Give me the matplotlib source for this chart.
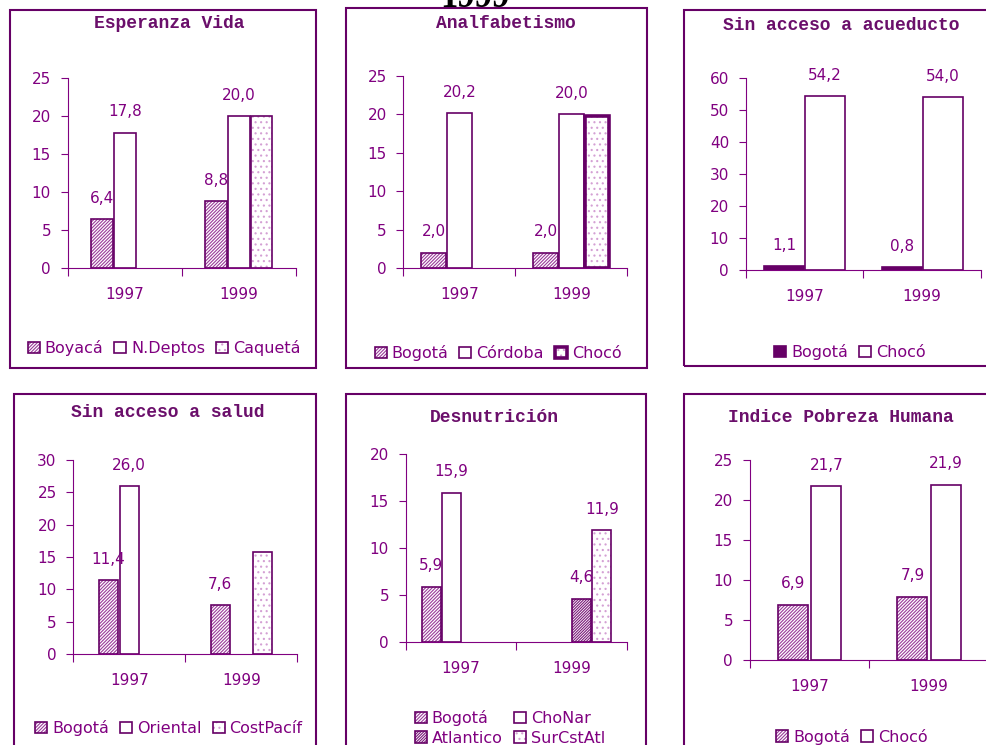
import numpy as np
import matplotlib
matplotlib.use('Agg')
import matplotlib.pyplot as plt
from matplotlib.patches import Rectangle, Patch

W, H = 986, 745
nan = np.nan

years = ['1997', '1999']

esp_names = ['Boyacá', 'N.Deptos', 'Caquetá']
esp_vals = [[6.4, 8.8], [17.8, 20.0], [nan, 20.0]]

anal_names = ['Bogotá', 'Córdoba', 'Chocó']
anal_vals = [[2.0, 2.0], [20.2, 20.0], [nan, 19.8]]

acu_names = ['Bogotá', 'Chocó']
acu_vals = [[1.1, 0.8], [54.2, 54.0]]

sal_names = ['Bogotá', 'Oriental', 'CostPacíf']
sal_vals = [[11.4, 7.6], [26.0, nan], [nan, 15.8]]

des_names = ['Bogotá', 'ChoNar', 'Atlantico', 'SurCstAtl']
des_vals = [[5.9, nan], [15.9, nan], [nan, 4.6], [nan, 11.9]]

iph_names = ['Bogotá', 'Chocó']
iph_vals = [[6.9, 7.9], [21.7, 21.9]]

purple = '#800080'
dark = '#660066'
title_col = '#6b0f6b'

plt.rcParams['hatch.linewidth'] = 0.8

styles = {
    'hatch': dict(face='white', hatch='//////////', hc='#9a3c9a', lw=1.2),
    'hatch2': dict(face='white', hatch='////////////', hc='#7a1a7a', lw=1.2),
    'white': dict(face='white', hatch=None, hc=dark, lw=1.2),
    'dots': dict(face='white', hatch='...', hc='#d4a0d4', lw=1.2),
    'dots_thick': dict(face='white', hatch='...', hc='#d4a0d4', lw=2.6),
    'solid': dict(face=dark, hatch=None, hc=dark, lw=1.2),
}


def fig_rect(x0, y0, x1, y1):
    return [x0 / W, 1 - y1 / H, (x1 - x0) / W, (y1 - y0) / H]


def draw_panel(fig, box, axbox, title, title_xy, names, vals, kinds, labeled,
               ymax, ystep, offsets, width, leg_xy, leg_ncol, leg_order=None):
    fig.add_artist(Rectangle((box[0] / W, 1 - box[3] / H), (box[2] - box[0]) / W,
                             (box[3] - box[1]) / H, transform=fig.transFigure,
                             fill=False, edgecolor=dark, lw=1.5))
    fig.text(title_xy[0] / W, 1 - title_xy[1] / H, title, ha='center', va='center',
             family='Liberation Mono', weight='bold', fontsize=13, color=title_col)
    ax = fig.add_axes(fig_rect(*axbox))
    ax.patch.set_alpha(0)
    x = np.arange(len(years)) + 0.5
    handles = []
    for name, v, k, off, lab in zip(names, vals, kinds, offsets, labeled):
        st = styles[k]
        v = np.array(v, dtype=float)
        ax.bar(x + off, v, width, color=st['face'], hatch=st['hatch'],
               edgecolor=st['hc'], linewidth=0)
        ax.bar(x + off, v, width, fill=False, edgecolor=dark, linewidth=st['lw'])
        handles.append((Patch(facecolor=st['face'], hatch=st['hatch'], edgecolor=st['hc'], lw=0),
                        Patch(fill=False, edgecolor=dark, lw=st['lw'])))
        if lab:
            for xi, vi in zip(x + off, v):
                if np.isnan(vi):
                    continue
                ax.annotate(f'{vi:.1f}'.replace('.', ','), (xi, vi), xytext=(0, 15),
                            textcoords='offset points', ha='center', va='center',
                            fontsize=11, color=purple)
    ax.set_xlim(0, len(years))
    ax.set_ylim(0, ymax)
    ax.set_yticks(np.arange(0, ymax + 1, ystep))
    ax.set_xticks(np.arange(len(years) + 1))
    ax.set_xticklabels([])
    ax.set_xticks(x, minor=True)
    ax.set_xticklabels(years, minor=True)
    ax.tick_params(axis='x', which='major', direction='out', length=6, color=purple)
    ax.tick_params(axis='x', which='minor', length=0, pad=14, labelsize=11, labelcolor=purple)
    ax.tick_params(axis='y', direction='out', length=5, pad=7, color=purple,
                   labelsize=11, labelcolor=purple)
    for s in ['top', 'right']:
        ax.spines[s].set_visible(False)
    for s in ['left', 'bottom']:
        ax.spines[s].set_color(purple)
    if leg_order is None:
        leg_order = range(len(names))
    fig.legend([handles[i] for i in leg_order], [names[i] for i in leg_order],
               loc='center', bbox_to_anchor=(leg_xy[0] / W, 1 - leg_xy[1] / H),
               ncol=leg_ncol, frameon=False, fontsize=11.5, handlelength=0.75,
               handleheight=0.75, handletextpad=0.3, columnspacing=0.7,
               labelcolor=purple, labelspacing=0.3)
    return ax


fig = plt.figure(figsize=(W / 100, H / 100), dpi=100)

# title of the page, cut by the top edge as in the source
fig.text(475 / W, 1 - 7 / H, '1999', ha='center', va='baseline', fontsize=25,
         family='Liberation Serif', weight='bold', color='black')

draw_panel(fig, (9.5, 10, 315.7, 367.7), (67.7, 78, 295.7, 268), 'Esperanza Vida', (169, 24),
           esp_names, esp_vals, ['hatch', 'white', 'dots'], [True, True, False],
           25, 5, [-0.2, 0, 0.2], 0.19, (164, 348), 3)

draw_panel(fig, (345.7, 8.3, 647, 367.7), (403.3, 76, 627.3, 268), 'Analfabetismo', (506, 23),
           anal_names, anal_vals, ['hatch', 'white', 'dots_thick'], [True, True, False],
           25, 5, [-0.23, 0, 0.23], 0.22, (498, 353), 3)

draw_panel(fig, (684, 10, 990, 366), (745.7, 77.7, 981, 269.7), 'Sin acceso a acueducto', (841, 26),
           acu_names, acu_vals, ['solid', 'white'], [True, True],
           60, 10, [-0.175, 0.175], 0.34, (850, 352), 2)

draw_panel(fig, (14.3, 394.3, 315.7, 750), (73.3, 460, 297.3, 654), 'Sin acceso a salud', (168, 412),
           sal_names, sal_vals, ['hatch', 'white', 'dots'], [True, True, False],
           30, 5, [-0.19, 0, 0.19], 0.17, (169, 728), 3)

draw_panel(fig, (345.7, 394, 646, 750), (405.7, 454, 627.3, 642), 'Desnutrición', (494, 417),
           des_names, des_vals, ['hatch', 'white', 'hatch2', 'dots'], [True, True, True, True],
           20, 5, [-0.27, -0.09, 0.09, 0.27], 0.17, (510, 728), 2, leg_order=[0, 2, 1, 3])

draw_panel(fig, (684, 394.3, 990, 750), (749.7, 460, 989, 659.7), 'Indice Pobreza Humana', (841, 417),
           iph_names, iph_vals, ['hatch', 'white'], [True, True],
           25, 5, [-0.14, 0.14], 0.25, (852, 736.7), 2)

fig.savefig('out.png', dpi=100)
